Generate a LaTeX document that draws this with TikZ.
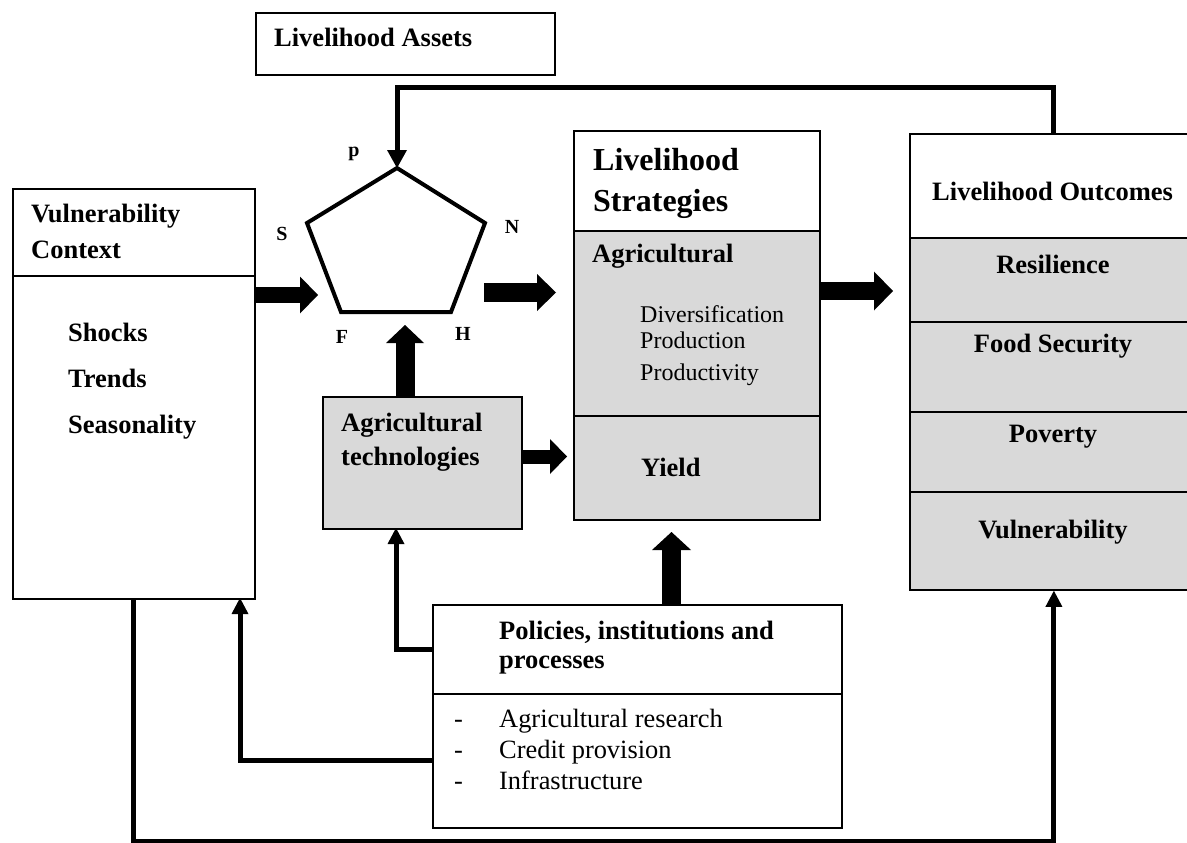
\documentclass[tikz,border=0pt]{standalone}
\usepackage{fontspec}
\setmainfont{Liberation Serif}
\usetikzlibrary{arrows.meta}
\definecolor{boxgray}{HTML}{D9D9D9}
\tikzset{
  frame/.style={draw=black, line width=1.8pt, inner sep=0pt, anchor=north west},
  whitebox/.style={frame, fill=white},
  graybox/.style={frame, fill=boxgray},
  lbl/.style={font=\fontsize{26.5}{30}\selectfont\bfseries, anchor=base west, inner sep=0pt},
  lblc/.style={lbl, anchor=base},
  biglbl/.style={font=\fontsize{32}{36}\selectfont\bfseries, anchor=base west, inner sep=0pt},
  reg/.style={font=\fontsize{26.4}{30}\selectfont, anchor=base west, inner sep=0pt},
  smallreg/.style={font=\fontsize{24}{28}\selectfont, anchor=base west, inner sep=0pt},
  corner/.style={font=\fontsize{20}{24}\selectfont\bfseries, anchor=base, inner sep=0pt},
  feed/.style={line width=5pt, line join=miter, -{Triangle[width=17pt,length=16pt,line width=0pt]}},
  blockarrow/.style args={#1/#2/#3}{line width=#1, -{Triangle[width=#2,length=#3,line width=0pt]}},
}
\begin{document}
\begin{tikzpicture}[x=1pt,y=-1pt]
\useasboundingbox (0,0) rectangle (1187,843);

% Livelihood assets
\node[whitebox, minimum width=299pt, minimum height=62pt] (assets) at (255,12) {};
\node[lbl] (assetsT) at (274,47) {Livelihood Assets};

% Vulnerability context
\node[whitebox, minimum width=242pt, minimum height=87pt] (vulnTop) at (12,188) {};
\node[whitebox, minimum width=242pt, minimum height=323pt] (vulnBody) at (12,275) {};
\node[lbl] (vulnT1) at (31,222) {Vulnerability};
\node[lbl] (vulnT2) at (31,258) {Context};
\node[lbl] (shocks) at (68,341) {Shocks};
\node[lbl] (trends) at (68,387) {Trends};
\node[lbl] (season) at (68,433) {Seasonality};

% Pentagon
\coordinate (pTop) at (397,168);
\coordinate (pR) at (485,223);
\coordinate (pBR) at (451,312);
\coordinate (pBL) at (341,312);
\coordinate (pL) at (307,223);
\draw[line width=4pt, line join=miter] (pTop) -- (pR) -- (pBR) -- (pBL) -- (pL) -- cycle;
\node[corner] (labP) at (354,157) {p};
\node[corner] (labS) at (282,240) {S};
\node[corner] (labN) at (512,233) {N};
\node[corner] (labF) at (342,343) {F};
\node[corner] (labH) at (463,340) {H};

% Agricultural technologies
\node[graybox, minimum width=199pt, minimum height=132pt] (agri) at (322,396) {};
\node[lbl] (agriT1) at (341,431) {Agricultural};
\node[lbl] (agriT2) at (341,465) {technologies};

% Livelihood strategies
\node[whitebox, minimum width=246pt, minimum height=100pt] (stratHead) at (573,130) {};
\node[graybox, minimum width=246pt, minimum height=185pt] (stratAgri) at (573,230) {};
\node[graybox, minimum width=246pt, minimum height=104pt] (stratYield) at (573,415) {};
\node[biglbl] (stratT1) at (593,170) {Livelihood};
\node[biglbl] (stratT2) at (593,211) {Strategies};
\node[lbl] (stratAg) at (592,262) {Agricultural};
\node[smallreg] (div) at (640,322) {Diversification};
\node[smallreg] (prod) at (640,348) {Production};
\node[smallreg] (prodv) at (640,380) {Productivity};
\node[lbl] (yield) at (641,476) {Yield};

% Livelihood outcomes
\node[whitebox, minimum width=288pt, minimum height=104pt] (outHead) at (909,133) {};
\node[graybox, minimum width=288pt, minimum height=84pt] (outRes) at (909,237) {};
\node[graybox, minimum width=288pt, minimum height=90pt] (outFood) at (909,321) {};
\node[graybox, minimum width=288pt, minimum height=80pt] (outPov) at (909,411) {};
\node[graybox, minimum width=288pt, minimum height=98pt] (outVul) at (909,491) {};
\node[lbl] (outT) at (932,200) {Livelihood Outcomes};
\node[lblc] (resT) at (1053,273) {Resilience};
\node[lblc] (foodT) at (1053,352) {Food Security};
\node[lblc] (povT) at (1053,442) {Poverty};
\node[lblc] (vulT) at (1053,538) {Vulnerability};

% Policies
\node[whitebox, minimum width=409pt, minimum height=89pt] (polHead) at (432,604) {};
\node[whitebox, minimum width=409pt, minimum height=134pt] (polBody) at (432,693) {};
\node[lbl] (polT1) at (499,639) {Policies, institutions and};
\node[lbl] (polT2) at (499,668) {processes};
\node[reg] (d1) at (454,727) {-};
\node[reg] (d2) at (454,758) {-};
\node[reg] (d3) at (454,789) {-};
\node[reg] (b1) at (499,727) {Agricultural research};
\node[reg] (b2) at (499,758) {Credit provision};
\node[reg] (b3) at (499,789) {Infrastructure};

% Block arrows
\coordinate (a1s) at (256,295);   \coordinate (a1e) at (318,295);
\coordinate (a2s) at (484,292.5); \coordinate (a2e) at (556,292.5);
\coordinate (a3s) at (820,291);   \coordinate (a3e) at (893,291);
\coordinate (a4s) at (405,396);   \coordinate (a4e) at (405,325);
\coordinate (a5s) at (521,456.5); \coordinate (a5e) at (567,456.5);
\coordinate (a6s) at (671.5,604); \coordinate (a6e) at (671.5,532);
\draw[blockarrow=16pt/37pt/18pt] (a1s) -- (a1e);
\draw[blockarrow=19pt/37pt/19pt] (a2s) -- (a2e);
\draw[blockarrow=18pt/39pt/19pt] (a3s) -- (a3e);
\draw[blockarrow=19pt/38pt/18pt] (a4s) -- (a4e);
\draw[blockarrow=14pt/35pt/17pt] (a5s) -- (a5e);
\draw[blockarrow=19pt/39pt/18pt] (a6s) -- (a6e);

% Feedback connectors
\coordinate (agriIn) at (396,528);
\coordinate (vulnIn) at (240,598);
\draw[feed, -{Triangle[width=20pt,length=18pt,line width=0pt]}] (outHead.north) -- ++(0,-45) -| (pTop);
\draw[feed] (polHead.west) -| (agriIn);
\draw[feed] (polBody.west) -| (vulnIn);
\draw[feed] (vulnBody.south) -- ++(0,242) -| (outVul.south);
\end{tikzpicture}
\end{document}
